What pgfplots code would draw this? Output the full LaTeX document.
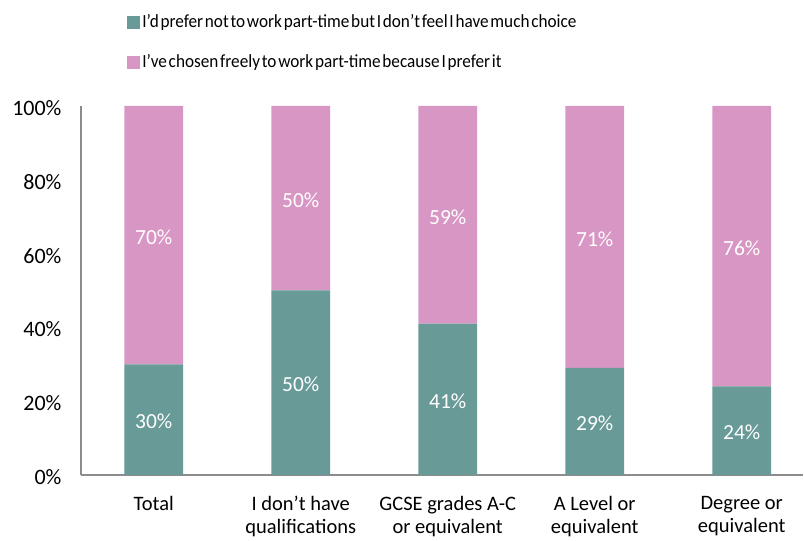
\documentclass[border=0pt]{standalone}
\usepackage{pgfplots}
\pgfplotsset{compat=1.18}
\usepackage{fontspec}
\setmainfont{Carlito}
\newfontfamily\legfont[WordSpace=0.45, FakeStretch=0.93]{Carlito}
\definecolor{teal1}{RGB}{104,154,152}
\definecolor{pink1}{RGB}{216,150,196}
\definecolor{axgray}{RGB}{140,140,140}
\begin{document}
\begin{tikzpicture}
\begin{axis}[
    scale only axis,
    width=722pt, height=369pt,
    ybar stacked,
    bar width=0.4,
    ymin=0, ymax=100,
    xmin=-0.495, xmax=4.417,
    xtick=data,
    xticklabels={Total, I don’t have\\qualifications, GCSE grades A-C\\or equivalent, A Level or\\equivalent, Degree or\\equivalent},
    xticklabel style={align=center, font=\fontsize{20.5}{22.5}\selectfont, yshift=-18pt},
    ytick={0,20,...,100},
    yticklabel={\pgfmathprintnumber{\tick}\%},
    yticklabel style={font=\fontsize{22}{24}\selectfont, xshift=-16pt, yshift=-2pt},
    /pgf/number format/assume math mode=true,
    axis x line*=bottom, axis y line*=left,
    x axis line style={axgray, line width=1.2pt, -},
    y axis line style={axgray, line width=1.2pt, -},
    major tick length=0pt,
    nodes near coords={\pgfmathprintnumber{\pgfplotspointmeta}\%},
    nodes near coords style={white, font=\fontsize{21.5}{24}\selectfont, anchor=center, yshift=-2pt},
    legend style={at={(0.064,1.253)}, anchor=north west, draw=none, fill=none,
        font=\fontsize{18.5}{20}\legfont, row sep=21.5pt, cells={anchor=west},
        inner sep=0pt},
    legend cell align=left,
    area legend,
    legend image code/.code={\fill[#1,draw=none] (0pt,-6.5pt) rectangle (13pt,6.5pt);},
]
\addplot[fill=teal1, draw=none, point meta=explicit]
  coordinates {(0,30)[30] (1,50)[50] (2,41)[41] (3,29)[29] (4,24)[24]};
\addplot[fill=pink1, draw=none, point meta=explicit]
  coordinates {(0,70)[70] (1,50)[50] (2,59)[59] (3,71)[71] (4,76)[76]};
\legend{I’d prefer not to work part-time but I don’t feel I have much choice, I’ve chosen freely to work part-time because I prefer it}
\coordinate (O) at (rel axis cs:0,0);
\end{axis}
\pgfresetboundingbox
\path (O) ++(-81pt,-66pt) rectangle ++(804pt,541pt);
\end{tikzpicture}
\end{document}
